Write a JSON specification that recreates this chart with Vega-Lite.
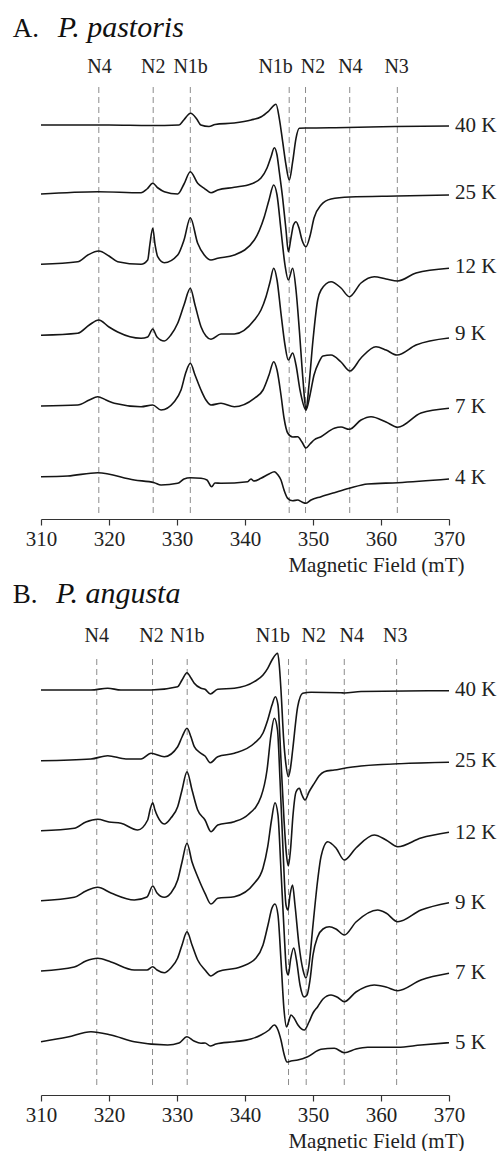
{
  "$schema": "https://vega.github.io/schema/vega-lite/v6.json",
  "padding": {"left": 12, "top": 5, "right": 5, "bottom": 5},
  "config": {
    "view": {"stroke": null},
    "font": "Liberation Serif",
    "text": {"font": "Liberation Serif"},
    "axis": {"grid": false, "labelFont": "Liberation Serif", "titleFont": "Liberation Serif"}
  },
  "datasets": {
    "curvesA": [
      {"T":"40 K","f":310,"s":394},{"T":"40 K","f":320,"s":394},{"T":"40 K","f":326,"s":393.5},{"T":"40 K","f":330.3,"s":394},{"T":"40 K","f":331.0,"s":399},{"T":"40 K","f":332.0,"s":405.7},{"T":"40 K","f":332.9,"s":400},{"T":"40 K","f":333.5,"s":394},{"T":"40 K","f":334.7,"s":392.5},{"T":"40 K","f":335.6,"s":394.5},{"T":"40 K","f":338.4,"s":396},{"T":"40 K","f":340.9,"s":399},{"T":"40 K","f":342.4,"s":402.3},{"T":"40 K","f":343.5,"s":408},{"T":"40 K","f":344.56,"s":414.7},{"T":"40 K","f":345.04,"s":400.7},{"T":"40 K","f":345.54,"s":377.3},{"T":"40 K","f":346.03,"s":354},{"T":"40 K","f":346.51,"s":339},{"T":"40 K","f":347.01,"s":357.3},{"T":"40 K","f":347.5,"s":380.7},{"T":"40 K","f":347.99,"s":390.7},{"T":"40 K","f":349,"s":391},{"T":"40 K","f":355,"s":391.5},{"T":"40 K","f":362,"s":392.5},{"T":"40 K","f":370,"s":393},

      {"T":"25 K","f":310,"s":325},{"T":"25 K","f":318.4,"s":327.3},{"T":"25 K","f":324.71,"s":326.3},{"T":"25 K","f":325.59,"s":330},{"T":"25 K","f":326.43,"s":335.7},{"T":"25 K","f":327.21,"s":331},{"T":"25 K","f":328.13,"s":327.3},{"T":"25 K","f":330.1,"s":325},{"T":"25 K","f":331.03,"s":335},{"T":"25 K","f":331.96,"s":347.3},{"T":"25 K","f":333.04,"s":335.7},{"T":"25 K","f":334.01,"s":330.7},{"T":"25 K","f":335,"s":326.3},{"T":"25 K","f":335.99,"s":329},{"T":"25 K","f":338.43,"s":331.7},{"T":"25 K","f":340.88,"s":335},{"T":"25 K","f":342.35,"s":341},{"T":"25 K","f":343.24,"s":351},{"T":"25 K","f":343.82,"s":362},{"T":"25 K","f":344.31,"s":371.3},{"T":"25 K","f":344.71,"s":364},{"T":"25 K","f":345.04,"s":347.3},{"T":"25 K","f":345.54,"s":320.7},{"T":"25 K","f":346.03,"s":289},{"T":"25 K","f":346.37,"s":267.3},{"T":"25 K","f":346.76,"s":281},{"T":"25 K","f":347.13,"s":294},{"T":"25 K","f":347.5,"s":297.3},{"T":"25 K","f":347.94,"s":291},{"T":"25 K","f":348.38,"s":279},{"T":"25 K","f":348.97,"s":272.3},{"T":"25 K","f":349.56,"s":283},{"T":"25 K","f":350.15,"s":301},{"T":"25 K","f":351.18,"s":314},{"T":"25 K","f":352.65,"s":320},{"T":"25 K","f":355.44,"s":322},{"T":"25 K","f":362.35,"s":323},{"T":"25 K","f":370,"s":324},

      {"T":"12 K","f":310,"s":254.7},{"T":"12 K","f":315.4,"s":257.3},{"T":"12 K","f":316.9,"s":264},{"T":"12 K","f":318.49,"s":268},{"T":"12 K","f":320,"s":263},{"T":"12 K","f":321.28,"s":257.3},{"T":"12 K","f":324.71,"s":254.7},{"T":"12 K","f":325.69,"s":259},{"T":"12 K","f":326.0,"s":274},{"T":"12 K","f":326.43,"s":290.7},{"T":"12 K","f":326.78,"s":274},{"T":"12 K","f":327.16,"s":262.3},{"T":"12 K","f":328.13,"s":256.3},{"T":"12 K","f":330.1,"s":264},{"T":"12 K","f":331.03,"s":279},{"T":"12 K","f":331.96,"s":301.3},{"T":"12 K","f":333.04,"s":275.7},{"T":"12 K","f":334.01,"s":264},{"T":"12 K","f":335,"s":259},{"T":"12 K","f":335.99,"s":260.7},{"T":"12 K","f":338.43,"s":264},{"T":"12 K","f":341.37,"s":279},{"T":"12 K","f":342.84,"s":302.3},{"T":"12 K","f":343.53,"s":319},{"T":"12 K","f":344.22,"s":334},{"T":"12 K","f":344.71,"s":324},{"T":"12 K","f":345.29,"s":289},{"T":"12 K","f":345.88,"s":254},{"T":"12 K","f":346.37,"s":239},{"T":"12 K","f":347.01,"s":250.7},{"T":"12 K","f":347.5,"s":229},{"T":"12 K","f":347.99,"s":189},{"T":"12 K","f":348.53,"s":139},{"T":"12 K","f":348.97,"s":109},{"T":"12 K","f":349.41,"s":134},{"T":"12 K","f":350,"s":179},{"T":"12 K","f":350.69,"s":219},{"T":"12 K","f":351.18,"s":229},{"T":"12 K","f":352.65,"s":237.3},{"T":"12 K","f":354.12,"s":231},{"T":"12 K","f":355.34,"s":222.3},{"T":"12 K","f":357.06,"s":236},{"T":"12 K","f":359.01,"s":242.3},{"T":"12 K","f":360.74,"s":240},{"T":"12 K","f":362.46,"s":238},{"T":"12 K","f":365.15,"s":246},{"T":"12 K","f":370,"s":250.7},

      {"T":"9 K","f":310,"s":183.7},{"T":"9 K","f":315.4,"s":185.7},{"T":"9 K","f":317.1,"s":194},{"T":"9 K","f":318.49,"s":199},{"T":"9 K","f":320,"s":192},{"T":"9 K","f":321.28,"s":187},{"T":"9 K","f":324.71,"s":180.7},{"T":"9 K","f":325.69,"s":182},{"T":"9 K","f":326.43,"s":190},{"T":"9 K","f":327.06,"s":182},{"T":"9 K","f":328.13,"s":178},{"T":"9 K","f":329.1,"s":184},{"T":"9 K","f":330.1,"s":195.7},{"T":"9 K","f":331.03,"s":214},{"T":"9 K","f":331.96,"s":230.7},{"T":"9 K","f":332.65,"s":214},{"T":"9 K","f":333.53,"s":192.3},{"T":"9 K","f":334.26,"s":183},{"T":"9 K","f":335,"s":179.7},{"T":"9 K","f":336.47,"s":185},{"T":"9 K","f":338.43,"s":185},{"T":"9 K","f":341.37,"s":199},{"T":"9 K","f":342.35,"s":209},{"T":"9 K","f":343.09,"s":222.3},{"T":"9 K","f":343.68,"s":237},{"T":"9 K","f":344.22,"s":250.7},{"T":"9 K","f":344.71,"s":239},{"T":"9 K","f":345.29,"s":205.7},{"T":"9 K","f":345.88,"s":174},{"T":"9 K","f":346.37,"s":159},{"T":"9 K","f":347.01,"s":166},{"T":"9 K","f":347.5,"s":154},{"T":"9 K","f":348.09,"s":129},{"T":"9 K","f":348.97,"s":109},{"T":"9 K","f":349.56,"s":124},{"T":"9 K","f":350.15,"s":144},{"T":"9 K","f":350.88,"s":157},{"T":"9 K","f":351.47,"s":163},{"T":"9 K","f":352.65,"s":164},{"T":"9 K","f":354.12,"s":157},{"T":"9 K","f":355.44,"s":148},{"T":"9 K","f":357.06,"s":161},{"T":"9 K","f":359.26,"s":172.3},{"T":"9 K","f":360.74,"s":169},{"T":"9 K","f":362.35,"s":164},{"T":"9 K","f":365.15,"s":174},{"T":"9 K","f":370,"s":181},

      {"T":"7 K","f":310,"s":113},{"T":"7 K","f":315.4,"s":114},{"T":"7 K","f":317.1,"s":119},{"T":"7 K","f":318.34,"s":122.3},{"T":"7 K","f":319.56,"s":119},{"T":"7 K","f":320.78,"s":115.7},{"T":"7 K","f":324.71,"s":112.3},{"T":"7 K","f":326.43,"s":114},{"T":"7 K","f":327.65,"s":109},{"T":"7 K","f":329.6,"s":117.3},{"T":"7 K","f":330.59,"s":129},{"T":"7 K","f":331.32,"s":147},{"T":"7 K","f":331.96,"s":155.7},{"T":"7 K","f":332.65,"s":144},{"T":"7 K","f":333.53,"s":129},{"T":"7 K","f":334.26,"s":119},{"T":"7 K","f":335,"s":114},{"T":"7 K","f":336.47,"s":115.7},{"T":"7 K","f":338.43,"s":112.3},{"T":"7 K","f":341.37,"s":120.7},{"T":"7 K","f":342.65,"s":129},{"T":"7 K","f":343.53,"s":144},{"T":"7 K","f":344.22,"s":157.3},{"T":"7 K","f":344.71,"s":149},{"T":"7 K","f":345.29,"s":124},{"T":"7 K","f":345.74,"s":101},{"T":"7 K","f":346.28,"s":86},{"T":"7 K","f":347.01,"s":82},{"T":"7 K","f":347.75,"s":82.3},{"T":"7 K","f":348.38,"s":77},{"T":"7 K","f":348.97,"s":71},{"T":"7 K","f":349.56,"s":75},{"T":"7 K","f":350.15,"s":79},{"T":"7 K","f":351.18,"s":82.3},{"T":"7 K","f":353.13,"s":90.7},{"T":"7 K","f":354.12,"s":92},{"T":"7 K","f":355.34,"s":89.7},{"T":"7 K","f":357.06,"s":99},{"T":"7 K","f":358.53,"s":102.3},{"T":"7 K","f":360.74,"s":97},{"T":"7 K","f":362.46,"s":91.7},{"T":"7 K","f":365.88,"s":106},{"T":"7 K","f":370,"s":110.7},

      {"T":"4 K","f":310,"s":42.3},{"T":"4 K","f":313.93,"s":43},{"T":"4 K","f":318.34,"s":46.3},{"T":"4 K","f":323.72,"s":39},{"T":"4 K","f":326.66,"s":36.3},{"T":"4 K","f":327.65,"s":34},{"T":"4 K","f":330.1,"s":35.7},{"T":"4 K","f":331.03,"s":40},{"T":"4 K","f":331.96,"s":41.3},{"T":"4 K","f":333.53,"s":40.7},{"T":"4 K","f":334.41,"s":39},{"T":"4 K","f":335.1,"s":32.3},{"T":"4 K","f":335.59,"s":36},{"T":"4 K","f":336.47,"s":35.7},{"T":"4 K","f":340.4,"s":37.3},{"T":"4 K","f":340.88,"s":40},{"T":"4 K","f":341.3,"s":38},{"T":"4 K","f":342.35,"s":40.7},{"T":"4 K","f":343.53,"s":45},{"T":"4 K","f":344.31,"s":47.3},{"T":"4 K","f":344.85,"s":44},{"T":"4 K","f":345.29,"s":39},{"T":"4 K","f":345.74,"s":29},{"T":"4 K","f":346.28,"s":20.7},{"T":"4 K","f":347.01,"s":18.3},{"T":"4 K","f":347.75,"s":19},{"T":"4 K","f":348.38,"s":17},{"T":"4 K","f":348.97,"s":15.7},{"T":"4 K","f":349.71,"s":19},{"T":"4 K","f":351.18,"s":22.3},{"T":"4 K","f":353.13,"s":26.3},{"T":"4 K","f":355.34,"s":30.7},{"T":"4 K","f":358.04,"s":35},{"T":"4 K","f":362.46,"s":36.3},{"T":"4 K","f":370,"s":40}
    ],
    "curvesB": [
      {"T":"40 K","f":310,"s":405},{"T":"40 K","f":317.35,"s":405},{"T":"40 K","f":319.81,"s":406.7},{"T":"40 K","f":321.76,"s":405},{"T":"40 K","f":326.18,"s":405},{"T":"40 K","f":330.1,"s":408.3},{"T":"40 K","f":330.74,"s":415},{"T":"40 K","f":331.47,"s":422.3},{"T":"40 K","f":332.06,"s":417},{"T":"40 K","f":332.54,"s":411.7},{"T":"40 K","f":333.53,"s":406.7},{"T":"40 K","f":334.12,"s":405.7},{"T":"40 K","f":334.9,"s":401},{"T":"40 K","f":335.99,"s":405.7},{"T":"40 K","f":338.43,"s":406.7},{"T":"40 K","f":341.37,"s":413.3},{"T":"40 K","f":342.65,"s":420},{"T":"40 K","f":343.34,"s":426.7},{"T":"40 K","f":343.97,"s":435},{"T":"40 K","f":344.81,"s":441.7},{"T":"40 K","f":345.04,"s":430},{"T":"40 K","f":345.29,"s":405},{"T":"40 K","f":345.69,"s":355},{"T":"40 K","f":346.03,"s":330},{"T":"40 K","f":346.37,"s":318.3},{"T":"40 K","f":346.69,"s":327},{"T":"40 K","f":347.01,"s":345},{"T":"40 K","f":347.75,"s":388.3},{"T":"40 K","f":348.49,"s":401.7},{"T":"40 K","f":349.71,"s":402.7},{"T":"40 K","f":354.12,"s":402.3},{"T":"40 K","f":354.6,"s":402},{"T":"40 K","f":357.06,"s":403.5},{"T":"40 K","f":370,"s":404.3},

      {"T":"25 K","f":310,"s":334.3},{"T":"25 K","f":317.35,"s":336},{"T":"25 K","f":319.81,"s":339.3},{"T":"25 K","f":322.5,"s":336},{"T":"25 K","f":324.71,"s":336},{"T":"25 K","f":326.18,"s":341.7},{"T":"25 K","f":328.13,"s":338.3},{"T":"25 K","f":330.1,"s":348.3},{"T":"25 K","f":330.74,"s":358},{"T":"25 K","f":331.47,"s":366.7},{"T":"25 K","f":332.06,"s":358},{"T":"25 K","f":332.54,"s":348.3},{"T":"25 K","f":333.53,"s":341.7},{"T":"25 K","f":334.12,"s":339},{"T":"25 K","f":334.9,"s":332.3},{"T":"25 K","f":335.99,"s":338.3},{"T":"25 K","f":338.43,"s":341.7},{"T":"25 K","f":341.37,"s":351.7},{"T":"25 K","f":342.65,"s":362},{"T":"25 K","f":343.34,"s":375},{"T":"25 K","f":343.97,"s":390},{"T":"25 K","f":344.46,"s":398.3},{"T":"25 K","f":344.85,"s":390},{"T":"25 K","f":345.29,"s":335},{"T":"25 K","f":345.74,"s":275},{"T":"25 K","f":346.1,"s":240},{"T":"25 K","f":346.37,"s":229},{"T":"25 K","f":346.69,"s":245},{"T":"25 K","f":347.06,"s":280},{"T":"25 K","f":347.5,"s":303},{"T":"25 K","f":347.99,"s":306.7},{"T":"25 K","f":348.38,"s":300},{"T":"25 K","f":348.82,"s":295},{"T":"25 K","f":349.41,"s":303},{"T":"25 K","f":350.19,"s":311.7},{"T":"25 K","f":350.88,"s":319},{"T":"25 K","f":351.66,"s":323.3},{"T":"25 K","f":353.13,"s":325},{"T":"25 K","f":357.06,"s":329},{"T":"25 K","f":370,"s":332.7},

      {"T":"12 K","f":310,"s":264.3},{"T":"12 K","f":314.9,"s":266.7},{"T":"12 K","f":316.6,"s":273},{"T":"12 K","f":318.34,"s":275.7},{"T":"12 K","f":320,"s":273},{"T":"12 K","f":321.76,"s":271.7},{"T":"12 K","f":324.22,"s":265},{"T":"12 K","f":325.69,"s":275},{"T":"12 K","f":326.03,"s":285},{"T":"12 K","f":326.43,"s":292.3},{"T":"12 K","f":326.76,"s":285},{"T":"12 K","f":327.16,"s":278.3},{"T":"12 K","f":328.13,"s":271},{"T":"12 K","f":329.1,"s":277},{"T":"12 K","f":330.1,"s":288.3},{"T":"12 K","f":330.74,"s":305},{"T":"12 K","f":331.47,"s":323.3},{"T":"12 K","f":332.21,"s":305},{"T":"12 K","f":333.04,"s":285},{"T":"12 K","f":334.12,"s":275},{"T":"12 K","f":335,"s":263.3},{"T":"12 K","f":335.99,"s":270},{"T":"12 K","f":338.43,"s":273.3},{"T":"12 K","f":340.4,"s":280},{"T":"12 K","f":342.35,"s":298.3},{"T":"12 K","f":343.24,"s":325},{"T":"12 K","f":343.82,"s":360},{"T":"12 K","f":344.31,"s":376.7},{"T":"12 K","f":344.78,"s":365},{"T":"12 K","f":345.15,"s":315},{"T":"12 K","f":345.59,"s":245},{"T":"12 K","f":346.03,"s":190},{"T":"12 K","f":346.32,"s":185},{"T":"12 K","f":346.62,"s":200},{"T":"12 K","f":346.99,"s":210},{"T":"12 K","f":347.35,"s":190},{"T":"12 K","f":347.94,"s":150},{"T":"12 K","f":348.53,"s":125},{"T":"12 K","f":348.97,"s":117},{"T":"12 K","f":349.41,"s":130},{"T":"12 K","f":350,"s":170},{"T":"12 K","f":350.69,"s":215},{"T":"12 K","f":351.18,"s":238.3},{"T":"12 K","f":352.16,"s":253.3},{"T":"12 K","f":353.38,"s":247},{"T":"12 K","f":354.6,"s":235},{"T":"12 K","f":356.32,"s":247},{"T":"12 K","f":359.01,"s":260},{"T":"12 K","f":360.74,"s":255},{"T":"12 K","f":362.46,"s":248.3},{"T":"12 K","f":365.88,"s":257},{"T":"12 K","f":370,"s":262.7},

      {"T":"9 K","f":310,"s":194.3},{"T":"9 K","f":314.9,"s":197.7},{"T":"9 K","f":316.6,"s":204},{"T":"9 K","f":318.34,"s":207.7},{"T":"9 K","f":320.29,"s":202},{"T":"9 K","f":323.72,"s":195},{"T":"9 K","f":325.59,"s":198},{"T":"9 K","f":326.43,"s":209},{"T":"9 K","f":327.06,"s":202},{"T":"9 K","f":328.13,"s":197.7},{"T":"9 K","f":329.1,"s":202},{"T":"9 K","f":330.1,"s":215},{"T":"9 K","f":330.74,"s":233},{"T":"9 K","f":331.47,"s":251.7},{"T":"9 K","f":332.21,"s":233},{"T":"9 K","f":333.04,"s":218.3},{"T":"9 K","f":334.12,"s":201.7},{"T":"9 K","f":335,"s":191},{"T":"9 K","f":335.99,"s":196.7},{"T":"9 K","f":338.43,"s":198.3},{"T":"9 K","f":341.37,"s":211.7},{"T":"9 K","f":342.65,"s":227},{"T":"9 K","f":343.34,"s":248.3},{"T":"9 K","f":343.9,"s":275},{"T":"9 K","f":344.41,"s":292.3},{"T":"9 K","f":344.85,"s":280},{"T":"9 K","f":345.29,"s":225},{"T":"9 K","f":345.74,"s":165},{"T":"9 K","f":346.1,"s":125},{"T":"9 K","f":346.37,"s":120},{"T":"9 K","f":346.69,"s":135},{"T":"9 K","f":347.16,"s":147},{"T":"9 K","f":347.57,"s":135},{"T":"9 K","f":348.09,"s":110},{"T":"9 K","f":348.68,"s":98},{"T":"9 K","f":349.12,"s":100},{"T":"9 K","f":349.56,"s":115},{"T":"9 K","f":350,"s":140},{"T":"9 K","f":350.69,"s":158.3},{"T":"9 K","f":351.47,"s":166},{"T":"9 K","f":352.4,"s":168.3},{"T":"9 K","f":353.38,"s":166},{"T":"9 K","f":354.6,"s":160},{"T":"9 K","f":356.32,"s":173},{"T":"9 K","f":359.51,"s":185},{"T":"9 K","f":360.74,"s":182},{"T":"9 K","f":362.46,"s":173.3},{"T":"9 K","f":365.88,"s":185},{"T":"9 K","f":370,"s":192.3},

      {"T":"7 K","f":310,"s":124},{"T":"7 K","f":314.9,"s":128},{"T":"7 K","f":316.6,"s":134},{"T":"7 K","f":318.34,"s":136.7},{"T":"7 K","f":320.29,"s":133},{"T":"7 K","f":323.72,"s":125},{"T":"7 K","f":325.59,"s":125},{"T":"7 K","f":326.43,"s":128.3},{"T":"7 K","f":327.06,"s":125},{"T":"7 K","f":328.13,"s":122.3},{"T":"7 K","f":329.1,"s":127},{"T":"7 K","f":330.1,"s":137},{"T":"7 K","f":330.74,"s":150},{"T":"7 K","f":331.47,"s":163.3},{"T":"7 K","f":332.21,"s":150},{"T":"7 K","f":333.04,"s":135},{"T":"7 K","f":334.12,"s":125},{"T":"7 K","f":335,"s":119},{"T":"7 K","f":335.99,"s":123.3},{"T":"7 K","f":339.41,"s":128.3},{"T":"7 K","f":341.62,"s":137},{"T":"7 K","f":342.65,"s":150},{"T":"7 K","f":343.38,"s":170},{"T":"7 K","f":343.97,"s":187},{"T":"7 K","f":344.41,"s":191},{"T":"7 K","f":344.85,"s":180},{"T":"7 K","f":345.29,"s":135},{"T":"7 K","f":345.74,"s":85},{"T":"7 K","f":346.1,"s":68},{"T":"7 K","f":346.4,"s":73},{"T":"7 K","f":346.76,"s":80},{"T":"7 K","f":347.21,"s":77},{"T":"7 K","f":347.79,"s":70},{"T":"7 K","f":348.72,"s":65},{"T":"7 K","f":349.41,"s":73},{"T":"7 K","f":350,"s":82},{"T":"7 K","f":350.69,"s":88.3},{"T":"7 K","f":351.47,"s":96},{"T":"7 K","f":352.65,"s":100},{"T":"7 K","f":353.53,"s":98},{"T":"7 K","f":354.6,"s":93.3},{"T":"7 K","f":356.32,"s":103},{"T":"7 K","f":359.01,"s":110},{"T":"7 K","f":360.74,"s":108},{"T":"7 K","f":362.46,"s":104.3},{"T":"7 K","f":365.88,"s":115},{"T":"7 K","f":370,"s":121.7},

      {"T":"5 K","f":310,"s":53.3},{"T":"5 K","f":313.93,"s":58},{"T":"5 K","f":317.35,"s":63.3},{"T":"5 K","f":320.29,"s":60},{"T":"5 K","f":323.72,"s":53.3},{"T":"5 K","f":328.63,"s":50},{"T":"5 K","f":330.29,"s":52},{"T":"5 K","f":331.47,"s":58.3},{"T":"5 K","f":332.5,"s":54},{"T":"5 K","f":333.53,"s":51.7},{"T":"5 K","f":334.12,"s":52},{"T":"5 K","f":334.9,"s":49},{"T":"5 K","f":335.74,"s":51},{"T":"5 K","f":338.43,"s":53.3},{"T":"5 K","f":340.88,"s":56},{"T":"5 K","f":342.35,"s":60},{"T":"5 K","f":343.53,"s":65},{"T":"5 K","f":344.31,"s":70},{"T":"5 K","f":344.85,"s":65},{"T":"5 K","f":345.29,"s":55},{"T":"5 K","f":345.74,"s":41},{"T":"5 K","f":346.18,"s":33},{"T":"5 K","f":346.76,"s":34},{"T":"5 K","f":347.75,"s":35},{"T":"5 K","f":349.22,"s":38.3},{"T":"5 K","f":351.18,"s":45.7},{"T":"5 K","f":353.13,"s":46.7},{"T":"5 K","f":354.6,"s":42.3},{"T":"5 K","f":356.32,"s":46},{"T":"5 K","f":358.04,"s":47.7},{"T":"5 K","f":362.46,"s":47.7},{"T":"5 K","f":365.88,"s":50},{"T":"5 K","f":370,"s":52.3}
    ],
    "tempA": [
      {"t":"40 K","f":370,"s":393.3},{"t":"25 K","f":370,"s":326},{"t":"12 K","f":370,"s":252.3},{"t":"9 K","f":370,"s":185},{"t":"7 K","f":370,"s":112.3},{"t":"4 K","f":370,"s":40.7}
    ],
    "tempB": [
      {"t":"40 K","f":370,"s":405},{"t":"25 K","f":370,"s":334.3},{"t":"12 K","f":370,"s":262.3},{"t":"9 K","f":370,"s":191.7},{"t":"7 K","f":370,"s":121.7},{"t":"5 K","f":370,"s":51.7}
    ],
    "linesA": [{"f":318.5},{"f":326.5},{"f":331.96},{"f":346.5},{"f":348.9},{"f":355.4},{"f":362.4}],
    "linesB": [{"f":318.2},{"f":326.4},{"f":331.5},{"f":346.4},{"f":349.0},{"f":354.6},{"f":362.3}],
    "labA": [{"t":"N4","f":318.6},{"t":"N2","f":326.5},{"t":"N1b","f":332.0},{"t":"N1b","f":344.5},{"t":"N2","f":350.0},{"t":"N4","f":355.5},{"t":"N3","f":362.3}],
    "labB": [{"t":"N4","f":318.2},{"t":"N2","f":326.25},{"t":"N1b","f":331.5},{"t":"N1b","f":344.1},{"t":"N2","f":350.1},{"t":"N4","f":355.7},{"t":"N3","f":362.1}],
    "titleA1": [{"t":"A.","f":305.84}],
    "titleA2": [{"t":"P. pastoris","f":312.46}],
    "titleB1": [{"t":"B.","f":305.84}],
    "titleB2": [{"t":"P. angusta","f":312.2}]
  },
  "bounds": "flush",
  "spacing": 56,
  "vconcat": [
    {
      "width": 408,
      "height": 514,
      "layer": [
        {
          "data": {"name": "linesA"},
          "mark": {"type": "rule", "color": "#8c8c8c", "strokeWidth": 1, "strokeDash": [6, 4]},
          "encoding": {
            "x": {"field": "f", "type": "quantitative", "scale": {"domain": [310, 370], "nice": false, "zero": false},
              "axis": {"values": [310, 320, 330, 340, 350, 360, 370], "title": "Magnetic Field (mT)", "titleFont": "Liberation Serif", "titleFontSize": 21, "titleFontWeight": "normal", "titleColor": "#222", "titleAlign": "right", "titleBaseline": "alphabetic", "titleX": 423, "titleY": 52, "labelFont": "Liberation Serif", "labelFontSize": 21, "labelColor": "#222", "labelPadding": 3, "tickSize": 6, "tickColor": "#333", "domainColor": "#333", "tickWidth": 1.2, "domainWidth": 1.2, "labelFlush": false, "labelOverlap": false, "grid": false}},
            "y": {"datum": 6, "type": "quantitative", "scale": {"domain": [0, 514], "nice": false, "zero": false}, "axis": null},
            "y2": {"datum": 436}
          }
        },
        {
          "data": {"name": "curvesA"},
          "mark": {"type": "line", "interpolate": "monotone", "color": "#151515", "strokeWidth": 1.6},
          "encoding": {
            "x": {"field": "f", "type": "quantitative"},
            "y": {"field": "s", "type": "quantitative"},
            "detail": {"field": "T"}
          }
        },
        {
          "data": {"name": "tempA"},
          "mark": {"type": "text", "font": "Liberation Serif", "align": "left", "baseline": "middle", "dx": 6, "fontSize": 21, "color": "#222"},
          "encoding": {
            "x": {"field": "f", "type": "quantitative"},
            "y": {"field": "s", "type": "quantitative"},
            "text": {"field": "t"}
          }
        },
        {
          "data": {"name": "labA"},
          "mark": {"type": "text", "font": "Liberation Serif", "align": "center", "baseline": "alphabetic", "fontSize": 20, "color": "#222"},
          "encoding": {
            "x": {"field": "f", "type": "quantitative"},
            "y": {"datum": 445.7, "type": "quantitative"},
            "text": {"field": "t"}
          }
        },
        {
          "data": {"name": "titleA1"},
          "mark": {"type": "text", "font": "Liberation Serif", "align": "left", "baseline": "alphabetic", "fontSize": 27, "color": "#111"},
          "encoding": {
            "x": {"field": "f", "type": "quantitative"},
            "y": {"datum": 482, "type": "quantitative"},
            "text": {"field": "t"}
          }
        },
        {
          "data": {"name": "titleA2"},
          "mark": {"type": "text", "font": "Liberation Serif", "fontStyle": "italic", "align": "left", "baseline": "alphabetic", "fontSize": 30, "color": "#111"},
          "encoding": {
            "x": {"field": "f", "type": "quantitative"},
            "y": {"datum": 482, "type": "quantitative"},
            "text": {"field": "t"}
          }
        }
      ]
    },
    {
      "width": 408,
      "height": 520,
      "layer": [
        {
          "data": {"name": "linesB"},
          "mark": {"type": "rule", "color": "#8c8c8c", "strokeWidth": 1, "strokeDash": [6, 4]},
          "encoding": {
            "x": {"field": "f", "type": "quantitative", "scale": {"domain": [310, 370], "nice": false, "zero": false},
              "axis": {"values": [310, 320, 330, 340, 350, 360, 370], "title": "Magnetic Field (mT)", "titleFont": "Liberation Serif", "titleFontSize": 21, "titleFontWeight": "normal", "titleColor": "#222", "titleAlign": "right", "titleBaseline": "alphabetic", "titleX": 423, "titleY": 52, "labelFont": "Liberation Serif", "labelFontSize": 21, "labelColor": "#222", "labelPadding": 3, "tickSize": 6, "tickColor": "#333", "domainColor": "#333", "tickWidth": 1.2, "domainWidth": 1.2, "labelFlush": false, "labelOverlap": false, "grid": false}},
            "y": {"datum": 10, "type": "quantitative", "scale": {"domain": [0, 520], "nice": false, "zero": false}, "axis": null},
            "y2": {"datum": 440}
          }
        },
        {
          "data": {"name": "curvesB"},
          "mark": {"type": "line", "interpolate": "monotone", "color": "#151515", "strokeWidth": 1.6},
          "encoding": {
            "x": {"field": "f", "type": "quantitative"},
            "y": {"field": "s", "type": "quantitative"},
            "detail": {"field": "T"}
          }
        },
        {
          "data": {"name": "tempB"},
          "mark": {"type": "text", "font": "Liberation Serif", "align": "left", "baseline": "middle", "dx": 6, "fontSize": 21, "color": "#222"},
          "encoding": {
            "x": {"field": "f", "type": "quantitative"},
            "y": {"field": "s", "type": "quantitative"},
            "text": {"field": "t"}
          }
        },
        {
          "data": {"name": "labB"},
          "mark": {"type": "text", "font": "Liberation Serif", "align": "center", "baseline": "alphabetic", "fontSize": 20, "color": "#222"},
          "encoding": {
            "x": {"field": "f", "type": "quantitative"},
            "y": {"datum": 452.7, "type": "quantitative"},
            "text": {"field": "t"}
          }
        },
        {
          "data": {"name": "titleB1"},
          "mark": {"type": "text", "font": "Liberation Serif", "align": "left", "baseline": "alphabetic", "fontSize": 27, "color": "#111"},
          "encoding": {
            "x": {"field": "f", "type": "quantitative"},
            "y": {"datum": 491.7, "type": "quantitative"},
            "text": {"field": "t"}
          }
        },
        {
          "data": {"name": "titleB2"},
          "mark": {"type": "text", "font": "Liberation Serif", "fontStyle": "italic", "align": "left", "baseline": "alphabetic", "fontSize": 30, "color": "#111"},
          "encoding": {
            "x": {"field": "f", "type": "quantitative"},
            "y": {"datum": 491.7, "type": "quantitative"},
            "text": {"field": "t"}
          }
        }
      ]
    }
  ]
}
